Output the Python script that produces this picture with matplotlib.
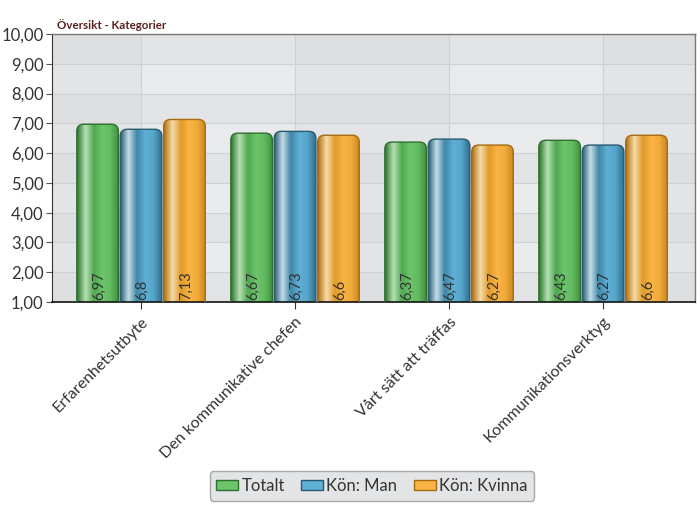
import matplotlib.pyplot as plt
import numpy as np
from matplotlib.patches import FancyBboxPatch, Patch
from matplotlib.colors import LinearSegmentedColormap

plt.rcParams['font.family'] = ['Lato', 'DejaVu Sans']

# Данные
categories = ["Erfarenhetsutbyte", "Den kommunikative chefen",
              "Vårt sätt att träffas", "Kommunikationsverktyg"]
series_names = ["Totalt", "Kön: Man", "Kön: Kvinna"]
totalt = [6.97, 6.67, 6.37, 6.43]
man = [6.8, 6.73, 6.47, 6.27]
kvinna = [7.13, 6.6, 6.27, 6.6]
yticks = [1, 2, 3, 4, 5, 6, 7, 8, 9, 10]

# Цвета: тёмный край, светлая полоса, основной тон
palettes = [
    ["#2e7a30", "#b8e0b4", "#4fa850", "#6cc56a", "#62bb60", "#3f8f3f"],
    ["#275c73", "#c4dde6", "#3f86a6", "#5fb0d4", "#56a6cb", "#336f8c"],
    ["#b57414", "#f6dcaa", "#e09a2a", "#f8b444", "#f0aa3a", "#c9861c"],
]
edge_colors = ["#2f6e2f", "#2a5a70", "#a86a10"]

fig = plt.figure(figsize=(7, 5.05), dpi=100)
ax = fig.add_axes([52 / 700, 1 - 302 / 505, 643 / 700, 268 / 505])

xmin, xmax = -0.578, 3.597
ax.set_xlim(xmin, xmax)
ax.set_ylim(1, 10)

# Фон с чередующимися полосами
ax.set_facecolor("#e4e5e7")
for i, y in enumerate(yticks[:-1]):
    c = "#e2e3e5" if i % 2 == 0 else "#e8eaec"
    ax.axhspan(y, y + 1, color=c, zorder=0, lw=0)
for i in range(0, len(categories) + 1, 2):
    ax.axvspan(max(i - 1, xmin), min(i, xmax), color="#d4d5d8", alpha=0.25, zorder=0, lw=0)
for y in yticks[1:-1]:
    ax.axhline(y, color="#cfd0d3", lw=0.8, zorder=0.5)
for i in range(len(categories)):
    ax.axvline(i, color="#cfd0d3", lw=0.8, zorder=0.5)

width = 0.27
offsets = [-0.282, 0.0, 0.282]
all_series = [totalt, man, kvinna]
x = np.arange(len(categories))
aspect = (643 / (xmax - xmin)) / (268 / 9)

for s, vals in enumerate(all_series):
    cmap = LinearSegmentedColormap.from_list("b%d" % s, palettes[s])
    grad = np.linspace(0, 1, 100).reshape(1, -1)
    for j, v in enumerate(vals):
        x0 = x[j] + offsets[s] - width / 2
        patch = FancyBboxPatch((x0, 1 - 0.3), width, v - 1 + 0.3,
                               boxstyle="round,pad=0,rounding_size=0.045",
                               mutation_aspect=aspect,
                               fc="none", ec=edge_colors[s], lw=1.0, zorder=3)
        ax.add_patch(patch)
        im = ax.imshow(grad, extent=[x0, x0 + width, 1, v], cmap=cmap,
                       aspect="auto", zorder=2, interpolation="bicubic")
        im.set_clip_path(patch)
        ax.text(x[j] + offsets[s] + 0.01, 1.08, f"{v:g}".replace(".", ","),
                rotation=90, ha="center", va="bottom", fontsize=10.5,
                color="#333333", zorder=4)

ax.set_xlim(xmin, xmax)
ax.set_ylim(1, 10)

ax.set_yticks(yticks)
ax.set_yticklabels([f"{t:.2f}".replace(".", ",") for t in yticks],
                   fontsize=12, color="#333333")
ax.set_xticks(x)
ax.set_xticklabels(categories, rotation=45, ha="right", rotation_mode="anchor",
                   fontsize=11.5, color="#333333")
ax.tick_params(axis="y", length=4, color="#555555", pad=2)
ax.tick_params(axis="x", length=5, color="#333333", pad=4)

for side in ["top", "right"]:
    ax.spines[side].set_color("#777777")
    ax.spines[side].set_linewidth(1.0)
ax.spines["left"].set_color("#333333")
ax.spines["bottom"].set_color("#111111")
ax.spines["bottom"].set_linewidth(1.2)

fig.text(57 / 700, 1 - 25 / 505, "Översikt - Kategorier", fontsize=8.3,
         fontweight="bold", color="#5a1f1f", va="center")

handles = [Patch(fc=palettes[i][3], ec=edge_colors[i]) for i in range(3)]
leg = fig.legend(handles, series_names, loc="center",
                 bbox_to_anchor=(372 / 700, 1 - 486 / 505), ncol=3,
                 fontsize=12, frameon=True, fancybox=True, handlelength=1.3,
                 handleheight=0.55, handletextpad=0.2, columnspacing=1.0,
                 borderpad=0.4)
leg.get_frame().set_facecolor("#e3e4e6")
leg.get_frame().set_edgecolor("#a8a8a8")
leg.get_frame().set_alpha(1)
for t in leg.get_texts():
    t.set_color("#333333")

fig.savefig("out.png", dpi=100)
